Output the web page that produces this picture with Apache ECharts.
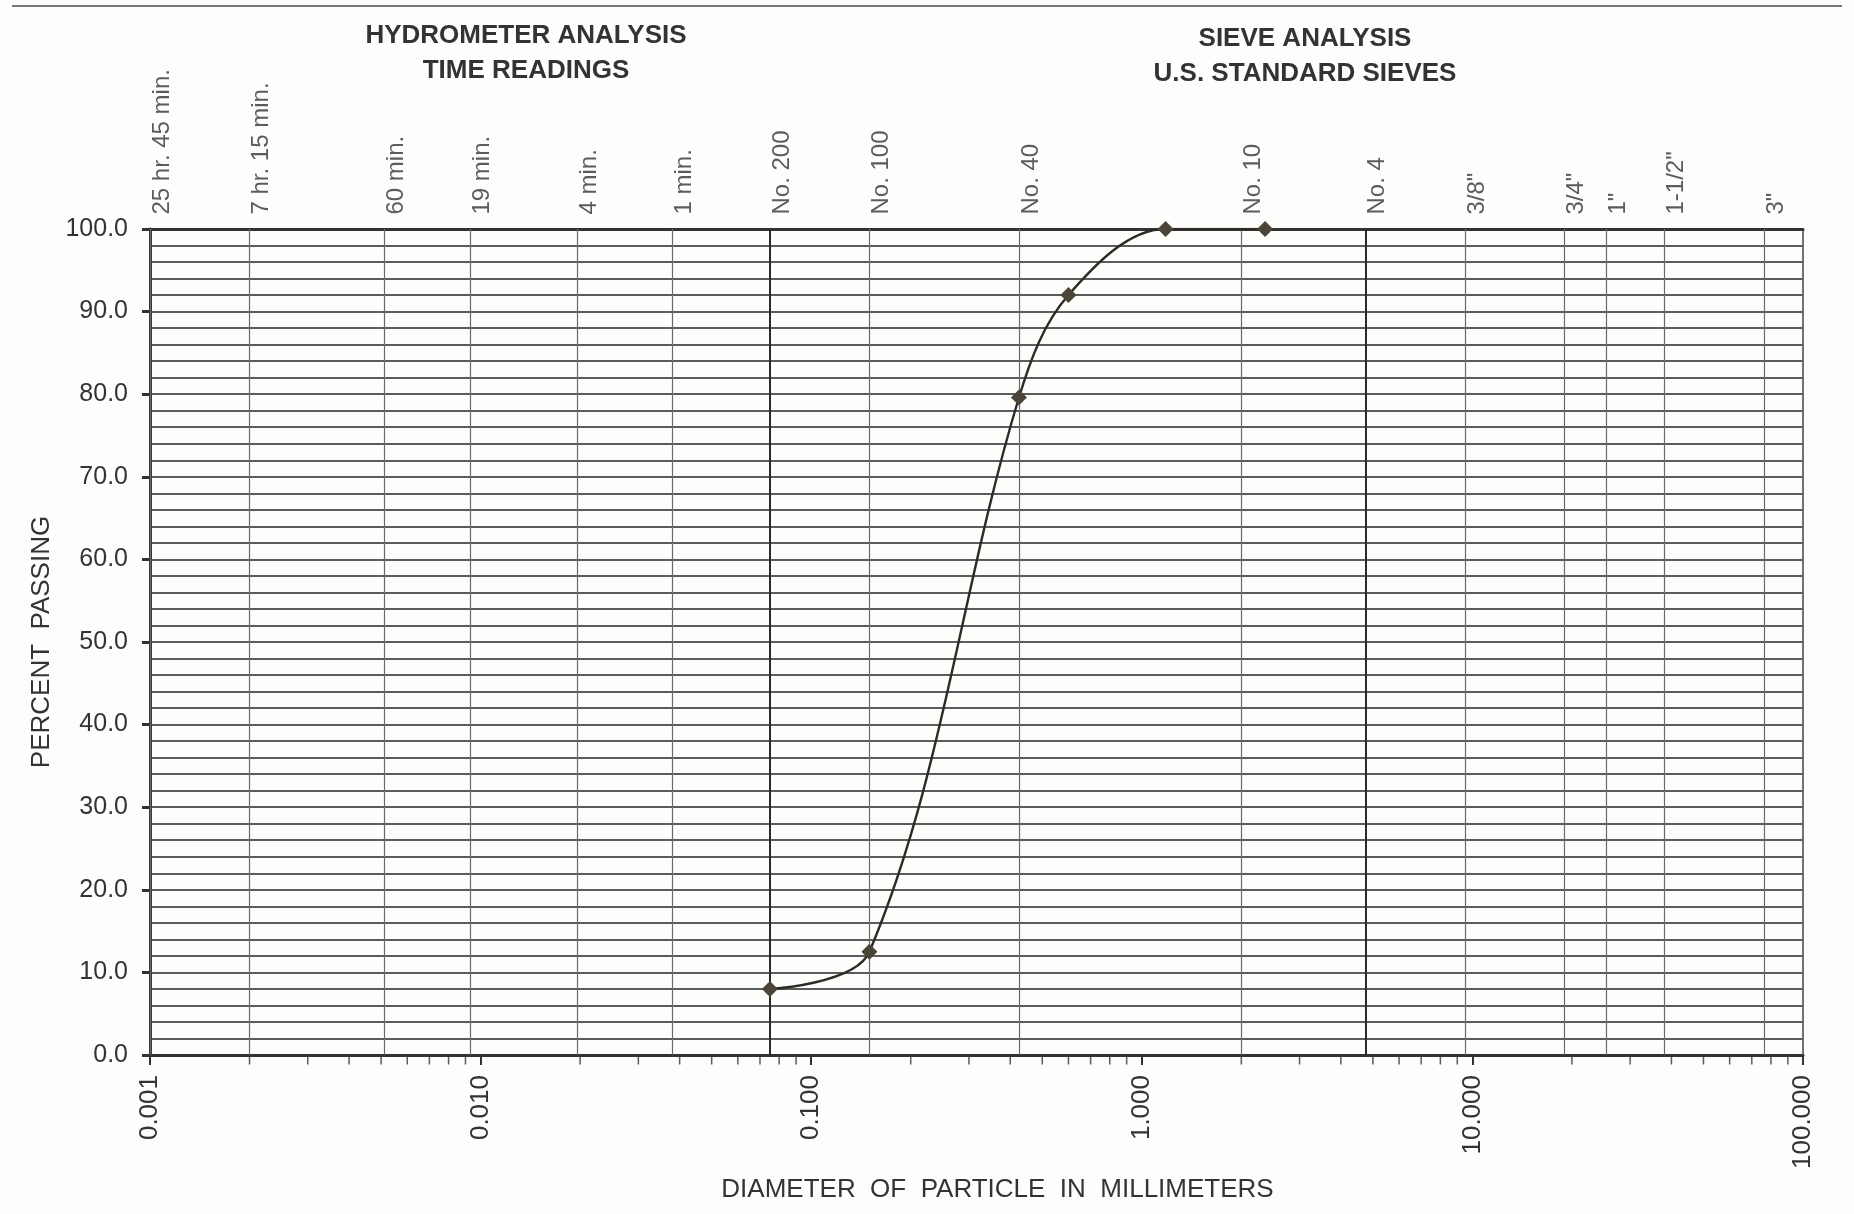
<!DOCTYPE html>
<html>
<head>
<meta charset="utf-8">
<title>Grain Size Distribution</title>
<script src="https://cdn.jsdelivr.net/npm/echarts@6/dist/echarts.min.js"></script>
<style>
  html, body { margin: 0; padding: 0; background: #fdfdfb; }
  #chart { width: 1854px; height: 1214px; }
</style>
</head>
<body>
<div id="chart"></div>
<script>
// sample results: particle diameter (mm) vs percent passing
const sieveSizes = [0.075, 0.15, 0.425, 0.6, 1.18, 2.36];
const percentPassing = [8.0, 12.5, 79.6, 92.0, 100.0, 100.0];

// hydrometer time readings along the top
const hydroLabels = ["25 hr. 45 min.", "7 hr. 15 min.", "60 min.", "19 min.", "4 min.", "1 min."];
const hydroSizes = [0.001, 0.002, 0.0051, 0.0093, 0.0196, 0.038];

// U.S. standard sieves along the top
const sieveLabels = ["No. 200", "No. 100", "No. 40", "No. 10", "No. 4", '3/8"', '3/4"', '1"', '1-1/2"', '3"'];
const sieveOpenings = [0.075, 0.15, 0.425, 2.0, 4.75, 9.5, 19.0, 25.4, 38.1, 76.2];
const heavyLines = [0.075, 4.75];

const xTickLabels = ["0.001", "0.010", "0.100", "1.000", "10.000", "100.000"];

const FONT = "Liberation Sans, Arial, sans-serif";
const INK = "#333";

// log minor ticks (2..9 in each decade) along the bottom axis
const minorTicks = [];
for (let e = -3; e < 2; e++) {
    for (let k = 2; k <= 9; k++) {
        minorTicks.push([k * Math.pow(10, e), 0]);
    }
}

const topMarks = hydroSizes.map((d, i) => ({ name: hydroLabels[i], value: [d, 100] }))
    .concat(sieveOpenings.map((d, i) => ({ name: sieveLabels[i], value: [d, 100] })));

const verticalLines = hydroSizes.concat(sieveOpenings).map((d) => {
    const heavy = heavyLines.includes(d);
    return {
        xAxis: d,
        lineStyle: heavy
            ? { color: "#2a2a2a", width: 2, type: "solid" }
            : { color: "#6a6a6a", width: 1.2, type: "solid" },
    };
});

const chart = echarts.init(document.getElementById("chart"));
const option = {
    backgroundColor: "#fdfdfb",
    animation: false,
    textStyle: { fontFamily: FONT },
    title: [
        {
            text: "HYDROMETER ANALYSIS\nTIME READINGS",
            left: 526,
            top: 18,
            padding: 0,
            textAlign: "center",
            textStyle: { fontSize: 26, fontWeight: "bold", color: INK, lineHeight: 35, fontFamily: FONT },
        },
        {
            text: "SIEVE ANALYSIS\nU.S. STANDARD SIEVES",
            left: 1305,
            top: 21,
            padding: 0,
            textAlign: "center",
            textStyle: { fontSize: 26, fontWeight: "bold", color: INK, lineHeight: 35, fontFamily: FONT },
        },
    ],
    graphic: [
        {
            type: "line",
            shape: { x1: 12, y1: 6, x2: 1842, y2: 6 },
            style: { stroke: "#777", lineWidth: 2 },
            silent: true,
        },
    ],
    grid: {
        left: 150,
        right: 51,
        top: 229,
        bottom: 159,
        show: true,
        borderColor: "#444",
        borderWidth: 1.5,
    },
    xAxis: [
        {
            type: "log",
            logBase: 10,
            min: 0.001,
            max: 100,
            position: "bottom",
            name: "DIAMETER  OF  PARTICLE  IN  MILLIMETERS",
            nameLocation: "middle",
            nameGap: 116,
            nameTextStyle: { fontSize: 26, color: INK, padding: [0, 0, 0, 42] },
            axisLine: { show: true, onZero: false, lineStyle: { color: INK, width: 3 } },
            axisTick: { show: true, length: 10, lineStyle: { color: INK, width: 2 } },
            axisLabel: {
                rotate: 90,
                margin: 20,
                fontSize: 26,
                color: INK,
                formatter: (v) => xTickLabels[Math.round(Math.log10(v)) + 3],
            },
            splitLine: { show: false },
            minorTick: { show: false },
        },
        {
            type: "log",
            logBase: 10,
            min: 0.001,
            max: 100,
            position: "top",
            axisLine: { show: true, onZero: false, lineStyle: { color: INK, width: 3 } },
            axisTick: { show: false },
            axisLabel: { show: false },
            splitLine: { show: false },
        },
    ],
    yAxis: {
        type: "value",
        min: 0,
        max: 100,
        interval: 10,
        name: "PERCENT  PASSING",
        nameLocation: "middle",
        nameGap: 93,
        nameTextStyle: { fontSize: 26, color: INK },
        axisLine: { show: true, onZero: false, lineStyle: { color: INK, width: 3 } },
        axisTick: { show: true, length: 8, lineStyle: { color: INK, width: 3 } },
        axisLabel: { fontSize: 25, color: INK, margin: 22, formatter: (v) => v.toFixed(1) },
        splitLine: { show: true, lineStyle: { color: "#5c5c5c", width: 1.8 } },
        minorTick: { show: false, splitNumber: 5 },
        minorSplitLine: { show: true, lineStyle: { color: "#5c5c5c", width: 1.8 } },
    },
    series: [
        {
            name: "minor ticks",
            type: "scatter",
            data: minorTicks,
            symbol: "rect",
            symbolSize: [1.5, 9],
            symbolOffset: [0, 5],
            itemStyle: { color: INK },
            silent: true,
            clip: false,
            z: 5,
        },
        {
            name: "top labels",
            type: "scatter",
            data: topMarks,
            symbolSize: 1,
            itemStyle: { color: "transparent" },
            silent: true,
            clip: false,
            label: {
                show: true,
                formatter: (p) => p.name,
                position: "top",
                distance: 14,
                rotate: 90,
                align: "left",
                verticalAlign: "middle",
                offset: [0, 12],
                fontSize: 24,
                color: INK,
            },
            markLine: {
                silent: true,
                precision: 6,
                symbol: ["none", "none"],
                label: { show: false },
                animation: false,
                data: verticalLines,
            },
        },
        {
            name: "Percent Passing",
            type: "line",
            data: sieveSizes.map((d, i) => [d, percentPassing[i]]),
            smooth: 0.35,
            symbol: "diamond",
            symbolSize: 16,
            showAllSymbol: true,
            lineStyle: { color: "#2e2b26", width: 2.4 },
            itemStyle: { color: "#4a4537" },
            z: 10,
        },
    ],
};
chart.setOption(option);
</script>
</body>
</html>
